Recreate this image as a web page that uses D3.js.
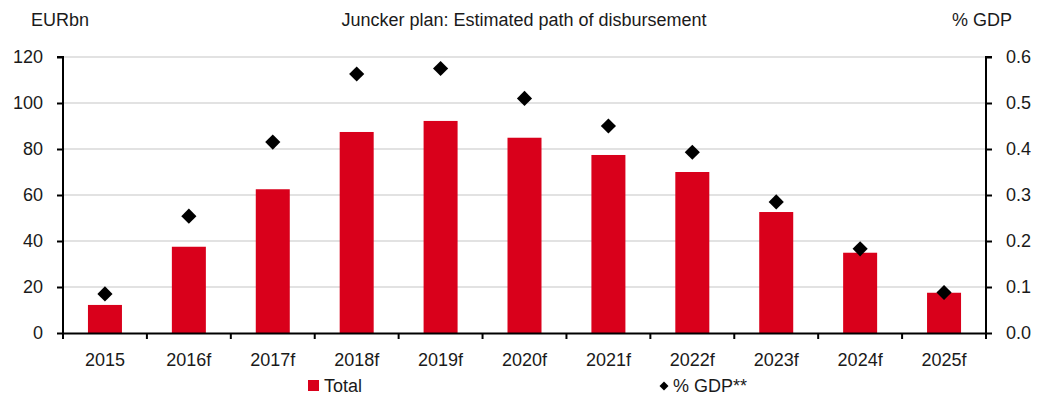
<!DOCTYPE html>
<html>
<head>
<meta charset="utf-8">
<script src="https://cdn.jsdelivr.net/npm/d3@7"></script>
<style>
  body { margin: 0; background: #fff; }
  svg text { font-family: "Liberation Sans", Arial, sans-serif; fill: #1a1a1a; }
</style>
</head>
<body>
<div class="chart"></div>
<script>
// data
var years = ["2015", "2016f", "2017f", "2018f", "2019f", "2020f", "2021f", "2022f", "2023f", "2024f", "2025f"];
var total = [12.2, 37.5, 62.5, 87.4, 92.2, 84.9, 77.4, 70.0, 52.6, 34.9, 17.5];
var gdpShare = [0.085, 0.254, 0.415, 0.563, 0.575, 0.51, 0.45, 0.393, 0.285, 0.183, 0.088];
var leftTicks = [0, 20, 40, 60, 80, 100, 120];
var rightTicks = [0, 0.1, 0.2, 0.3, 0.4, 0.5, 0.6];

var W = 1046, H = 396,
    margin = {top: 57, right: 60, bottom: 63, left: 63},
    width = W - margin.left - margin.right,
    height = H - margin.top - margin.bottom;

var red = "#d9001b";

var svg = d3.select(".chart").append("svg")
    .attr("width", W)
    .attr("height", H);

var g = svg.append("g")
    .attr("transform", "translate(" + margin.left + "," + margin.top + ")");

var x = d3.scaleBand().domain(years).range([0, width]).paddingInner(0.6).paddingOuter(0.3);
var xTick = d3.scaleBand().domain(years).range([0, width]);
var y = d3.scaleLinear().domain([0, 120]).range([height, 0]);
var y2 = d3.scaleLinear().domain([0, 0.6]).range([height, 0]);

// gridlines
g.selectAll(".grid")
  .data(leftTicks.filter(d => d > 0))
  .enter().append("line")
    .attr("x1", 0).attr("x2", width)
    .attr("y1", d => y(d)).attr("y2", d => y(d))
    .style("stroke", "#d9d9d9")
    .style("stroke-width", 1.5);

// bars
g.selectAll(".bar")
  .data(total)
  .enter().append("rect")
    .attr("x", (d, i) => xTick(years[i]) + xTick.bandwidth() / 2 - 17)
    .attr("width", 34)
    .attr("y", d => y(d))
    .attr("height", d => height - y(d))
    .attr("fill", red);

// diamonds
var diamond = d3.symbol().type(d3.symbolSquare).size(115);
g.selectAll(".pt")
  .data(gdpShare)
  .enter().append("path")
    .attr("d", diamond)
    .attr("transform", (d, i) => "translate(" + (xTick(years[i]) + xTick.bandwidth() / 2) + "," + y2(d) + ") rotate(45)")
    .attr("fill", "#000");

// axes
var fs = "18px";
var yAxis = g.append("g")
    .call(d3.axisLeft(y).tickValues(leftTicks).tickSize(6).tickPadding(14));
var y2Axis = g.append("g")
    .attr("transform", "translate(" + width + ",0)")
    .call(d3.axisRight(y2).tickValues(rightTicks).tickSize(6).tickPadding(14).tickFormat(d3.format(".1f")));
var xAxis = g.append("g")
    .attr("transform", "translate(0," + height + ")")
    .call(d3.axisBottom(xTick).tickValues([]).tickSizeOuter(0));

// x tick marks at band boundaries
g.selectAll(".xt")
  .data(d3.range(years.length + 1))
  .enter().append("line")
    .attr("x1", d => d * xTick.step()).attr("x2", d => d * xTick.step())
    .attr("y1", height).attr("y2", height + 6)
    .style("stroke", "#000").style("stroke-width", 2);

g.selectAll(".xl")
  .data(years)
  .enter().append("text")
    .attr("x", d => xTick(d) + xTick.bandwidth() / 2)
    .attr("y", height + 33)
    .attr("text-anchor", "middle")
    .style("font-size", fs)
    .text(d => d);

[yAxis, y2Axis, xAxis].forEach(a => {
  a.select(".domain").style("stroke", "#000").style("stroke-width", 2);
  a.selectAll(".tick line").style("stroke", "#000").style("stroke-width", 2);
  a.selectAll("text").style("font-size", fs).style("font-family", "Liberation Sans, Arial, sans-serif").attr("fill", "#1a1a1a");
});
yAxis.select(".domain").attr("d", "M-6,0H0V" + height);
y2Axis.select(".domain").attr("d", "M6,0H0V" + height);

// titles
svg.append("text").attr("x", 31).attr("y", 26).style("font-size", fs).text("EURbn");
svg.append("text").attr("x", 1012).attr("y", 26).attr("text-anchor", "end").style("font-size", fs).text("% GDP");
svg.append("text").attr("x", 524).attr("y", 26).attr("text-anchor", "middle").style("font-size", fs)
  .text("Juncker plan: Estimated path of disbursement");

// legend
var leg = svg.append("g");
leg.append("rect").attr("x", 308).attr("y", 380).attr("width", 11).attr("height", 11).attr("fill", red);
leg.append("text").attr("x", 324).attr("y", 392).style("font-size", fs).text("Total");
leg.append("path")
  .attr("d", d3.symbol().type(d3.symbolSquare).size(40))
  .attr("transform", "translate(664,386) rotate(45)")
  .attr("fill", "#000");
leg.append("text").attr("x", 673).attr("y", 392).style("font-size", fs).text("% GDP**");
</script>
</body>
</html>
